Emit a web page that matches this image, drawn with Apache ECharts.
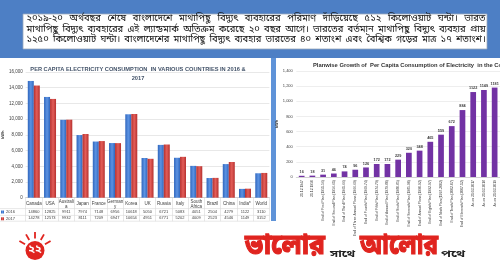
<!DOCTYPE html>
<html><head><meta charset="utf-8">
<script src="https://cdn.jsdelivr.net/npm/echarts/dist/echarts.min.js"></script>
<style>html,body{margin:0;padding:0;background:#fff}#c{width:500px;height:263px}</style>
</head><body><div id="c"></div><script>
const countries = ['Canada','USA','Australi\na','Japan','France','German\ny','Korea','UK','Russia','Italy','South\nAfrica','Brazil','China','India*','World'];
const v2016 = [14860,12825,9911,7974,7148,6956,10618,5050,6721,5083,4051,2504,4279,1122,3110];
const v2017 = [14278,12573,9932,8111,7209,6947,10654,4951,6771,5202,4009,2523,4546,1149,3152];
const plans = ['31.12.1947','31.12.1950','End of First Plan (1951-56)','End of Second Plan (1956-61)','End of Third Plan (1961-66)','End of Three Annual Plans (1966-69)','End of Fourth Plan (1969-74)','End of Fifth Plan (1974-79)','End of Annual Plan (1979-80)','End of Sixth Plan (1980-85)','End of Seventh Plan (1985-90)','End of Annual Plans (1990-92)','End of Eighth Plan (1992-97)','End of Ninth Plan (1997-2002)','End of Tenth Plan (2002-07)','End of Eleventh Plan (2007-12)','As on 31.03.2017','As on 31.03.2018','As on 31.03.2019'];
const planValues = [16,18,31,46,74,96,126,172,172,229,320,348,465,559,672,884,1122,1149,1181];
const bnLines = [
 '২০১৯-২০ অর্থবছর শেষে বাংলাদেশে মাথাপিছু বিদ্যুৎ ব্যবহারের পরিমাণ দাঁড়িয়েছে ৫১২ কিলোওয়াট ঘন্টা। ভারত',
 'মাথাপিছু বিদ্যুৎ ব্যবহারের এই ল্যান্ডমার্ক অতিক্রম করেছে ২০ বছর আগে। ভারতের বর্তমান মাথাপিছু বিদ্যুৎ ব্যবহার প্রায়',
 '১২৫০ কিলোওয়াট ঘন্টা। বাংলাদেশের মাথাপিছু বিদ্যুৎ ব্যবহার ভারতের ৪০ শতাংশ এবং বৈশ্বিক গড়ের মাত্র ১৭ শতাংশ।'
];
const leftTitle = 'PER CAPITA ELECTRICITY CONSUMPTION  IN VARIOUS COUNTRIES IN 2016 &\n2017';
const rightTitle = 'Planwise Growth of  Per Capita Consumption of Electricity  in the Country';
const sloganBig = ['ভালোর','আলোর'];
const sloganSmall = ['সাথে','পথে'];

const BN = "'Noto Sans Bengali','Lohit Bengali','Noto Serif Bengali','FreeSans',sans-serif";
const LAT = "'Liberation Sans','DejaVu Sans',sans-serif";
const chart = echarts.init(document.getElementById('c'), null, {renderer:'canvas'});
const grad = (a,b)=>new echarts.graphic.LinearGradient(0,0,1,0,[{offset:0,color:a},{offset:0.5,color:b},{offset:1,color:a}]);
const mctx = document.createElement('canvas').getContext('2d');

const graphics = [
 {type:'rect', shape:{x:0,y:0,width:500,height:58}, style:{fill:'#4d7fc5'}, z:-10},
 {type:'rect', shape:{x:271,y:58,width:5,height:163}, style:{fill:'#5f93d8'}, z:-10},
 {type:'rect', shape:{x:23,y:14,width:464,height:35}, style:{fill:'#fff',stroke:'#9aa8bb',lineWidth:0.8}},
];
// justified paragraph lines
const bnFont = '9.4px '+BN;
mctx.font = bnFont;
const lineLeft = 26.5, lineRight = 485.5;
bnLines.forEach((t,i)=>{
  const words = t.split(' ');
  const ws = words.map(w=>mctx.measureText(w).width);
  const total = ws.reduce((a,b)=>a+b,0);
  const gap = (lineRight-lineLeft-total)/(words.length-1);
  let x = lineLeft;
  words.forEach((w,j)=>{
    graphics.push({type:'text', x:x, y:19.6+i*10.4, style:{text:w, font:bnFont, fill:'#111', textVerticalAlign:'middle'}});
    x += ws[j]+gap;
  });
});
graphics.push({type:'text', x:138, y:73.5, style:{text:leftTitle, font:'bold 5.7px '+LAT, fill:'#44546a', textAlign:'center', textVerticalAlign:'middle', lineHeight:9}});
graphics.push({type:'text', x:313, y:65, style:{text:rightTitle, font:'bold 5.8px '+LAT, fill:'#333', textVerticalAlign:'middle'}});
[208.6,215.4,221.2].forEach(y=>graphics.push({type:'line', shape:{x1:0,y1:y,x2:269.4,y2:y}, style:{stroke:'#d9d9d9',lineWidth:0.6}}));
// logo sun
for(let k=0;k<5;k++){const a=(-150+k*30)*Math.PI/180; graphics.push({type:'line',shape:{x1:35+Math.cos(a)*11.5,y1:250+Math.sin(a)*11.5,x2:35+Math.cos(a)*18,y2:250+Math.sin(a)*18},style:{stroke:'#e0241f',lineWidth:1.8}});}
graphics.push({type:'circle', shape:{cx:35,cy:250.5,r:9.5}, style:{fill:'#e0241f'}});
graphics.push({type:'text', x:35, y:251, style:{text:'২২', font:'bold 11px '+BN, fill:'#fff', textAlign:'center', textVerticalAlign:'middle'}});
// slogan (big words stretched to the reference widths)
const bigX = [245, 360], bigW = [80, 78], smallX = [330, 441], smallW = [25, 24];
const bigFont = 'bold 28px '+BN, smallFont = 'bold 10px '+BN;
sloganBig.forEach((w,i)=>{
  mctx.font = bigFont; const m = mctx.measureText(w).width;
  graphics.push({type:'text', x:bigX[i], y:263, scaleX:bigW[i]/m, style:{text:w, font:bigFont, fill:'#e0241f', stroke:'#e0241f', lineWidth:1.2, textVerticalAlign:'bottom'}});
});
sloganSmall.forEach((w,i)=>{
  mctx.font = smallFont; const m = mctx.measureText(w).width;
  graphics.push({type:'text', x:smallX[i], y:260, scaleX:smallW[i]/m, style:{text:w, font:smallFont, fill:'#222', textVerticalAlign:'bottom'}});
});

const tiny = {fontSize:4.5, color:'#404040', fontFamily:LAT};
const option = {
 animation:false,
 backgroundColor:'#fff',
 legend:{left:1, top:210, orient:'vertical', itemWidth:3, itemHeight:3, itemGap:2.8, icon:'rect', textStyle:{fontSize:4, color:'#404040', fontFamily:LAT, padding:[0,0,0,-3]}, padding:0, data:['2016','2017']},
 grid:[
  {left:20.4, top:72, width:249, height:125.7},
  {left:296.3, top:71, width:206.4, height:106}
 ],
 xAxis:[
  {type:'category', gridIndex:0, position:'bottom', data:countries, axisLine:{lineStyle:{color:'#bfbfbf',width:0.6}}, axisTick:{show:true, interval:0, length:23.5, lineStyle:{color:'#d9d9d9',width:0.6}},
   axisLabel:Object.assign({interval:0, margin:6.5, verticalAlign:'middle', lineHeight:4.8},tiny)},
  {type:'category', gridIndex:0, position:'bottom', data:countries, offset:14.6, axisLine:{show:false}, axisTick:{show:false},
   axisLabel:{interval:0, margin:0, verticalAlign:'middle', fontSize:4, color:'#404040', fontFamily:LAT, formatter:(v,i)=>String(v2016[i])}},
  {type:'category', gridIndex:0, position:'bottom', data:countries, offset:20.6, axisLine:{show:false}, axisTick:{show:false},
   axisLabel:{interval:0, margin:0, verticalAlign:'middle', fontSize:4, color:'#404040', fontFamily:LAT, formatter:(v,i)=>String(v2017[i])}},
  {type:'category', gridIndex:1, position:'bottom', data:plans, axisLine:{lineStyle:{color:'#bfbfbf',width:0.6}}, axisTick:{show:false},
   axisLabel:{interval:0, rotate:90, margin:3, fontSize:3.4, color:'#404040', fontFamily:LAT}}
 ],
 yAxis:[
  {type:'value', gridIndex:0, min:0, max:16000, interval:2000, name:'kWh', nameLocation:'middle', nameGap:15, nameRotate:90,
   nameTextStyle:{fontSize:4, fontWeight:'bold', color:'#404040'}, axisLabel:Object.assign({margin:3},tiny),
   splitLine:{lineStyle:{color:'#d9d9d9',width:0.6}}},
  {type:'value', gridIndex:1, min:0, max:1400, interval:200, name:'kWh', nameLocation:'middle', nameGap:14.5, nameRotate:90,
   nameTextStyle:{fontSize:4, fontWeight:'bold', color:'#404040'},
   axisLabel:{margin:3.5, fontSize:4, color:'#404040', fontFamily:LAT, formatter:v=>v.toLocaleString('en-US')},
   splitLine:{lineStyle:{color:'#e3e3e3',width:0.6}}}
 ],
 series:[
  {name:'2016', type:'bar', xAxisIndex:0, yAxisIndex:0, data:v2016, barWidth:6, barGap:'0%', itemStyle:{color:grad('#2f66bd','#5c93e3')}},
  {name:'2017', type:'bar', xAxisIndex:0, yAxisIndex:0, data:v2017, barWidth:6, barGap:'0%', itemStyle:{color:grad('#b5302e','#e35d58')}},
  {name:'plan', type:'bar', xAxisIndex:3, yAxisIndex:1, data:planValues, barWidth:5.7, itemStyle:{color:'#7232a4'},
   label:{show:true, position:'top', distance:2, fontSize:3.8, fontWeight:'bold', color:'#404040', fontFamily:LAT}}
 ],
 graphic:graphics
};
chart.setOption(option);
</script></body></html>
